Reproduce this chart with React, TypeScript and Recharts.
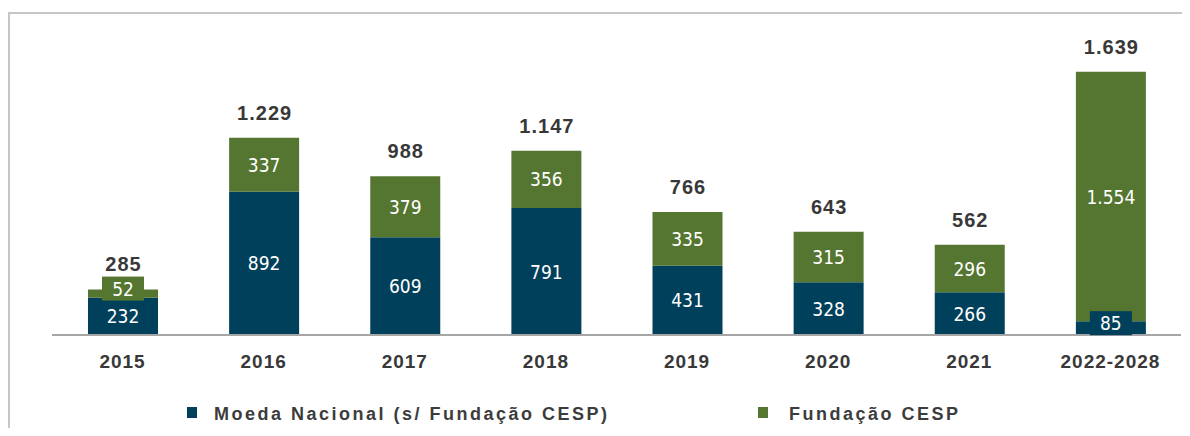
import { BarChart, Bar, XAxis, YAxis, LabelList, Legend } from "recharts";

const categories = ["2015", "2016", "2017", "2018", "2019", "2020", "2021", "2022-2028"];
const moedaNacional = [232, 892, 609, 791, 431, 328, 266, 85];
const fundacaoCesp = [52, 337, 379, 356, 335, 315, 296, 1554];
const totals = [285, 1229, 988, 1147, 766, 643, 562, 1639];

const BLUE = "#01405b";
const GREEN = "#557631";
const TEXT = "#383838";

const data = categories.map((c, i) => ({
  year: c,
  moeda: moedaNacional[i],
  fund: fundacaoCesp[i],
  total: totals[i],
}));

// pt-BR thousands separator
const fmt = (v: number) => String(v).replace(/\B(?=(\d{3})+(?!\d))/g, ".");

function innerLabel(boxColor: string) {
  return (props: any) => {
    const { x, y, width, height, value } = props;
    const cx = Number(x) + Number(width) / 2;
    const small = Number(height) < 20;
    const cy = Number(y) + Number(height) / 2 - (small ? 5 : 0);
    return (
      <g>
        {small && <rect x={cx - 21} y={cy - 12} width={42} height={24} fill={boxColor} />}
        <text
          x={cx}
          y={cy}
          textAnchor="middle"
          dominantBaseline="central"
          fill="#ffffff"
          fontSize={19}
          fontFamily="'Liberation Sans Narrow', 'Arial Narrow', 'DejaVu Sans Condensed', sans-serif"
          style={{ fontStretch: "condensed" }}
        >
          {fmt(Number(value))}
        </text>
      </g>
    );
  };
}

const totalLabel = (props: any) => {
  const { x, y, width, value } = props;
  return (
    <text
      x={Number(x) + Number(width) / 2 + 0.5}
      y={Number(y) - 25}
      textAnchor="middle"
      dominantBaseline="central"
      fill={TEXT}
      fontSize={20}
      fontWeight="bold"
      letterSpacing={1}
      fontFamily="'Liberation Sans', Arial, sans-serif"
    >
      {fmt(Number(value))}
    </text>
  );
};

const legendContent = () => (
  <div style={{ position: "relative", height: 0, fontFamily: "'Liberation Sans', Arial, sans-serif" }}>
    {[
      { label: "Moeda Nacional (s/ Fundação CESP)", color: BLUE, sq: 179, tx: 206 },
      { label: "Fundação CESP", color: GREEN, sq: 750, tx: 781 },
    ].map((it) => (
      <div key={it.label}>
        <div style={{ position: "absolute", left: it.sq, top: 0, width: 10, height: 11, background: it.color }} />
        <div
          style={{
            position: "absolute",
            left: it.tx,
            top: -3,
            whiteSpace: "nowrap",
            fontSize: 18,
            fontWeight: "bold",
            letterSpacing: 2.5,
            color: "#3c3c3c",
            lineHeight: "20px",
          }}
        >
          {it.label}
        </div>
      </div>
    ))}
  </div>
);

export default function App() {
  return (
    <div style={{ position: "relative", width: 1182, height: 420 }}>
      <div
        style={{
          position: "absolute",
          left: 0,
          top: 4,
          width: 1180,
          height: 424,
          borderLeft: "2px solid #c6c6c6",
          borderTop: "2px solid #c6c6c6",
        }}
      />
      <BarChart
        width={1182}
        height={420}
        data={data}
        margin={{ top: 38, right: 9, left: 44, bottom: 63 }}
        barSize={70}
      >
        <XAxis
          dataKey="year"
          height={30}
          axisLine={{ stroke: "#a6a6a6", strokeWidth: 2 }}
          tickLine={false}
          tick={{ fontSize: 19, fontWeight: "bold", fill: TEXT, letterSpacing: 1, fontFamily: "'Liberation Sans', Arial, sans-serif" }}
          dy={12}
          interval={0}
        />
        <YAxis hide domain={[0, 1800]} />
        <Legend
          verticalAlign="bottom"
          content={legendContent}
          wrapperStyle={{ top: 399, left: 0, bottom: "auto", width: 1182, height: 0 }}
        />
        <Bar dataKey="moeda" stackId="a" fill={BLUE} isAnimationActive={false}>
          <LabelList dataKey="moeda" content={innerLabel(BLUE)} />
        </Bar>
        <Bar dataKey="fund" stackId="a" fill={GREEN} isAnimationActive={false}>
          <LabelList dataKey="fund" content={innerLabel(GREEN)} />
          <LabelList dataKey="total" content={totalLabel} />
        </Bar>
      </BarChart>
    </div>
  );
}
